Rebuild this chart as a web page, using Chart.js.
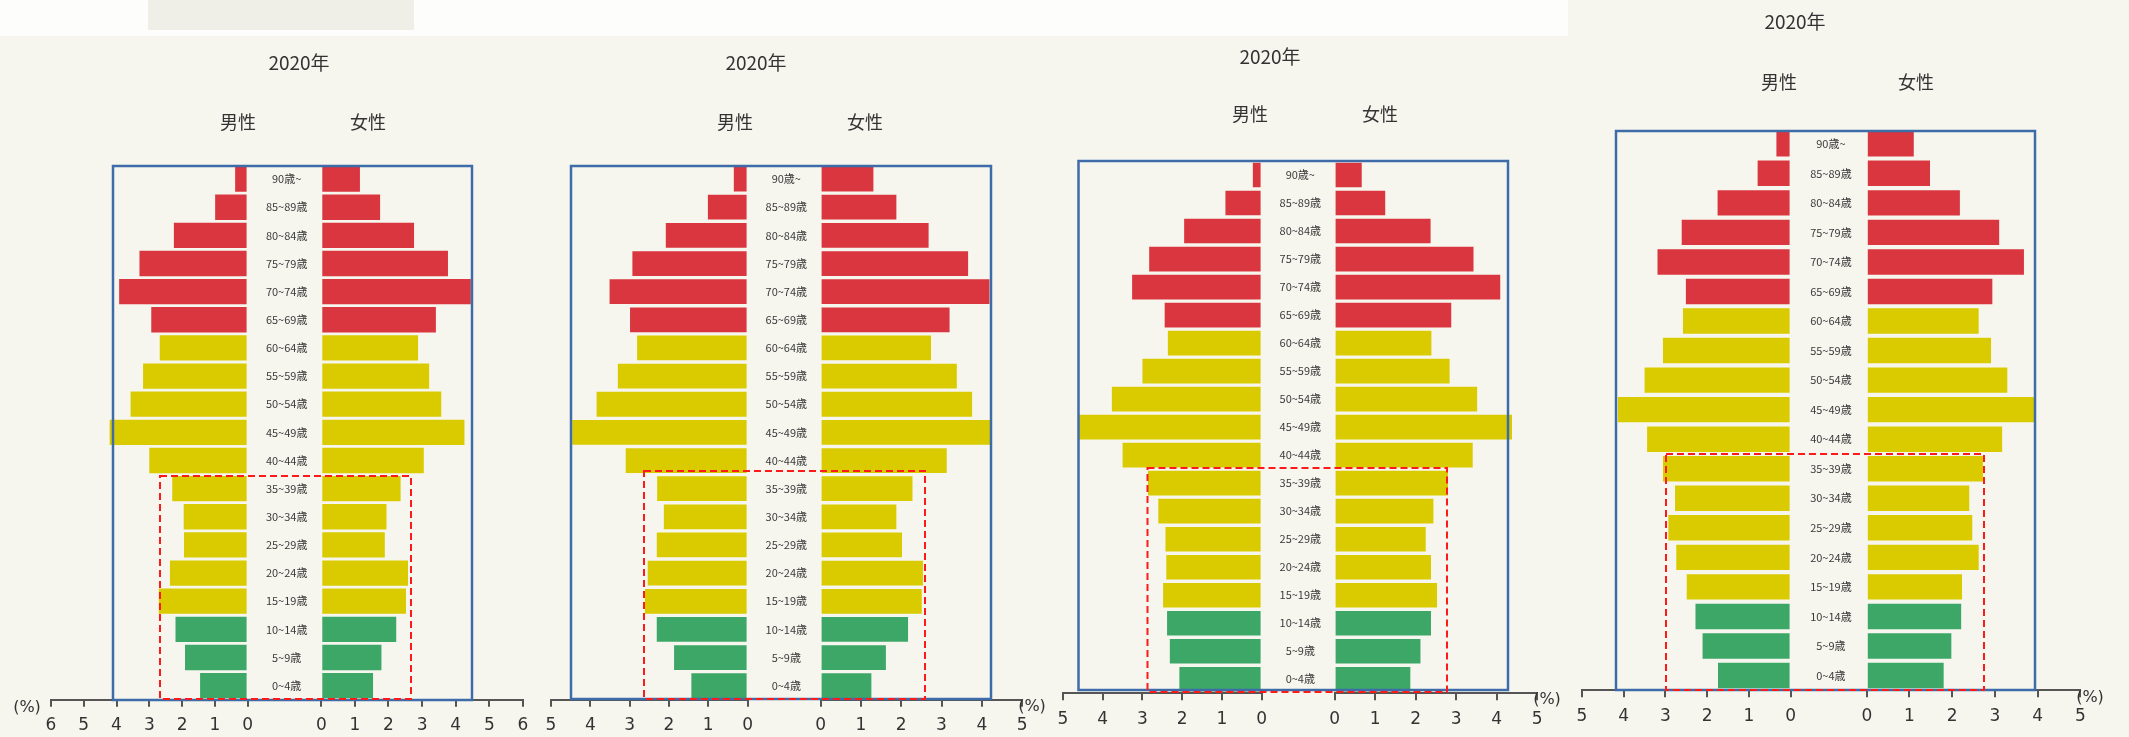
<!DOCTYPE html>
<html>
<head>
<meta charset="utf-8">
<script src="https://cdn.jsdelivr.net/npm/chart.js@4.4.1/dist/chart.umd.min.js"></script>
<style>
  body { margin: 0; width: 2129px; height: 737px; background: #f6f6ef; position: relative; overflow: hidden;
         font-family: "Noto Sans CJK JP", "Noto Sans", sans-serif; }
  .txt { position: absolute; transform: translate(-50%, -50%); color: #333; white-space: nowrap; }
  #frames { position: absolute; left: 0; top: 0; pointer-events: none; }
</style>
</head>
<body>
<div style="position:absolute;left:0;top:0;width:1568px;height:36px;background:#fdfdfb"></div>
<div style="position:absolute;left:148px;top:0;width:266px;height:30px;background:#efefe7"></div>
<div id="stage"></div>
<svg id="frames" width="2129" height="737"></svg>
<script>
/* ================= DATA ================= */
const ageLabels = ["90歳~", "85~89歳", "80~84歳", "75~79歳", "70~74歳", "65~69歳", "60~64歳",
    "55~59歳", "50~54歳", "45~49歳", "40~44歳", "35~39歳", "30~34歳", "25~29歳",
    "20~24歳", "15~19歳", "10~14歳", "5~9歳", "0~4歳"];
const yearLabels = ["2020年", "2020年", "2020年", "2020年"];
const axisMax = [6, 5, 5, 5];

const male1   = [0.38, 0.99, 2.25, 3.30, 3.92, 2.94, 2.68, 3.19, 3.57, 4.21, 3.00, 2.30, 1.95, 1.94, 2.37, 2.71, 2.20, 1.91, 1.45];
const female1 = [1.15, 1.75, 2.76, 3.77, 4.45, 3.41, 2.88, 3.21, 3.57, 4.26, 3.05, 2.36, 1.94, 1.89, 2.58, 2.52, 2.23, 1.79, 1.54];
const male2   = [0.35, 1.01, 2.08, 2.93, 3.51, 2.99, 2.81, 3.30, 3.84, 4.46, 3.10, 2.30, 2.13, 2.31, 2.54, 2.61, 2.31, 1.87, 1.43];
const female2 = [1.31, 1.88, 2.68, 3.66, 4.19, 3.20, 2.74, 3.38, 3.76, 4.21, 3.13, 2.28, 1.88, 2.02, 2.54, 2.51, 2.17, 1.62, 1.26];
const male3   = [0.22, 0.91, 1.95, 2.83, 3.26, 2.44, 2.36, 3.00, 3.77, 4.60, 3.50, 2.86, 2.60, 2.42, 2.40, 2.48, 2.38, 2.31, 2.07];
const female3 = [0.67, 1.25, 2.37, 3.43, 4.09, 2.88, 2.39, 2.84, 3.52, 4.38, 3.41, 2.80, 2.44, 2.25, 2.38, 2.53, 2.38, 2.12, 1.87];
const male4   = [0.34, 0.79, 1.75, 2.61, 3.19, 2.51, 2.58, 3.06, 3.50, 4.14, 3.44, 3.06, 2.77, 2.93, 2.74, 2.49, 2.28, 2.11, 1.74];
const female4 = [1.10, 1.48, 2.18, 3.10, 3.68, 2.94, 2.62, 2.91, 3.29, 3.93, 3.17, 2.72, 2.40, 2.47, 2.62, 2.23, 2.21, 1.98, 1.80];

const maleSeries = [male1, male2, male3, male4];
const femaleSeries = [female1, female2, female3, female4];

/* ================= LAYOUT ================= */
// pixel geometry of each scanned panel
const panels = [
    { mZero: 252.1, mUnit: 33.45, fZero: 321.4, fUnit: 33.6, top: 165.3, axis: 700, bar: 0.9,
      title: [299, 61], men: [238, 121], women: [368, 121], pct: [27, 706],
      blue: [113, 166, 472, 700], red: [160, 476, 411, 699] },
    { mZero: 751.8, mUnit: 40.2, fZero: 820.4, fUnit: 40.3, top: 164.5, axis: 699.3, bar: 0.88,
      title: [756, 61], men: [735, 121], women: [865, 121], pct: [1032, 705],
      blue: [571, 166, 991, 699], red: [644, 471, 925, 699] },
    { mZero: 1266.4, mUnit: 40.6, fZero: 1335, fUnit: 40.5, top: 161, axis: 693.3, bar: 0.88,
      title: [1270, 55], men: [1250, 113], women: [1380, 113], pct: [1547, 698],
      blue: [1078.5, 161, 1508, 690], red: [1147.5, 468, 1447, 692] },
    { mZero: 1794.8, mUnit: 42.5, fZero: 1866.6, fUnit: 42.7, top: 128.7, axis: 690, bar: 0.86,
      title: [1795, 20], men: [1779, 81], women: [1916, 81], pct: [2090, 696],
      blue: [1616, 131, 2035, 690], red: [1666, 454, 1984, 690] }
];

const PADT = 10, AXIS_H = 42, PAD_OUT = 16;
const RED = "#d9363f", YELLOW = "#d9cb00", GREEN = "#3da768";

function barColor(i) {
    if (i <= 5) return RED;       // 65歳以上
    if (i <= 15) return YELLOW;   // 15~64歳
    return GREEN;                 // 0~14歳
}

const ageLabelPlugin = {
    id: "ageLabels",
    afterDraw(chart) {
        const { ctx, chartArea, scales: { y } } = chart;
        ctx.save();
        ctx.font = '11px "Noto Sans CJK JP"';
        ctx.fillStyle = "#3a3a3a";
        ctx.textAlign = "center";
        ctx.textBaseline = "middle";
        chart.data.labels.forEach((l, i) => ctx.fillText(l, chartArea.left / 2, y.getPixelForValue(i)));
        ctx.restore();
    }
};

function addCanvas(left, top, w, h) {
    const c = document.createElement("canvas");
    c.width = w;
    c.height = h;
    c.style.cssText = `position:absolute;left:${left}px;top:${top}px;width:${w}px;height:${h}px`;
    document.getElementById("stage").appendChild(c);
    return c;
}

function addText(str, pos, size, font) {
    const d = document.createElement("div");
    d.className = "txt";
    d.textContent = str;
    d.style.left = pos[0] + "px";
    d.style.top = pos[1] + "px";
    d.style.fontSize = size + "px";
    if (font) d.style.fontFamily = font;
    document.body.appendChild(d);
}

function drawPyramidSide(g, max, values, isMale) {
    const unit = isMale ? g.mUnit : g.fUnit;
    const plotW = max * unit;
    const plotH = g.axis - g.top;
    const padL = isMale ? PAD_OUT : g.fZero - g.mZero;
    const left = isMale ? g.mZero - plotW - PAD_OUT : g.mZero;
    const w = Math.ceil(padL + plotW + (isMale ? 10 : PAD_OUT));
    const h = Math.ceil(PADT + plotH + AXIS_H);
    const canvas = addCanvas(left, g.top - PADT, w, h);

    new Chart(canvas.getContext("2d"), {
        type: "bar",
        data: {
            labels: ageLabels,
            datasets: [{
                data: values,
                backgroundColor: values.map((v, i) => barColor(i)),
                borderWidth: 0,
                categoryPercentage: 1,
                barPercentage: g.bar
            }]
        },
        options: {
            indexAxis: "y",
            responsive: false,
            animation: false,
            events: [],
            layout: { padding: { left: padL, right: w - padL - plotW, top: PADT, bottom: h - PADT - plotH - AXIS_H } },
            plugins: { legend: { display: false }, tooltip: { enabled: false } },
            scales: {
                x: {
                    type: "linear", min: 0, max: max, reverse: isMale,
                    ticks: { stepSize: 1, color: "#333", padding: 9, maxRotation: 0, autoSkip: false,
                             font: { family: "DejaVu Sans", size: 17 } },
                    grid: { display: true, drawOnChartArea: false, drawTicks: true, tickLength: 7,
                            color: "#555", lineWidth: 2 },
                    border: { display: true, color: "#555", width: 2 },
                    afterFit: s => { s.height = AXIS_H; }
                },
                y: { type: "category", display: false, offset: true }
            }
        },
        plugins: isMale ? [] : [ageLabelPlugin]
    });
}

/* ================= BUILD ================= */
const svg = document.getElementById("frames");
panels.forEach((g, k) => {
    drawPyramidSide(g, axisMax[k], maleSeries[k], true);
    drawPyramidSide(g, axisMax[k], femaleSeries[k], false);

    addText(yearLabels[k], g.title, 19);
    addText("男性", g.men, 18);
    addText("女性", g.women, 18);
    addText("(%)", g.pct, 16, "DejaVu Sans");

    const [bx1, by1, bx2, by2] = g.blue;
    const [rx1, ry1, rx2, ry2] = g.red;
    svg.insertAdjacentHTML("beforeend",
        `<rect x="${bx1}" y="${by1}" width="${bx2 - bx1}" height="${by2 - by1}" fill="none" stroke="#3d6ca8" stroke-width="2.5"/>` +
        `<rect x="${rx1}" y="${ry1}" width="${rx2 - rx1}" height="${ry2 - ry1}" fill="none" stroke="#ff1a1a" stroke-width="2" stroke-dasharray="7 4"/>`);
});
</script>
</body>
</html>
